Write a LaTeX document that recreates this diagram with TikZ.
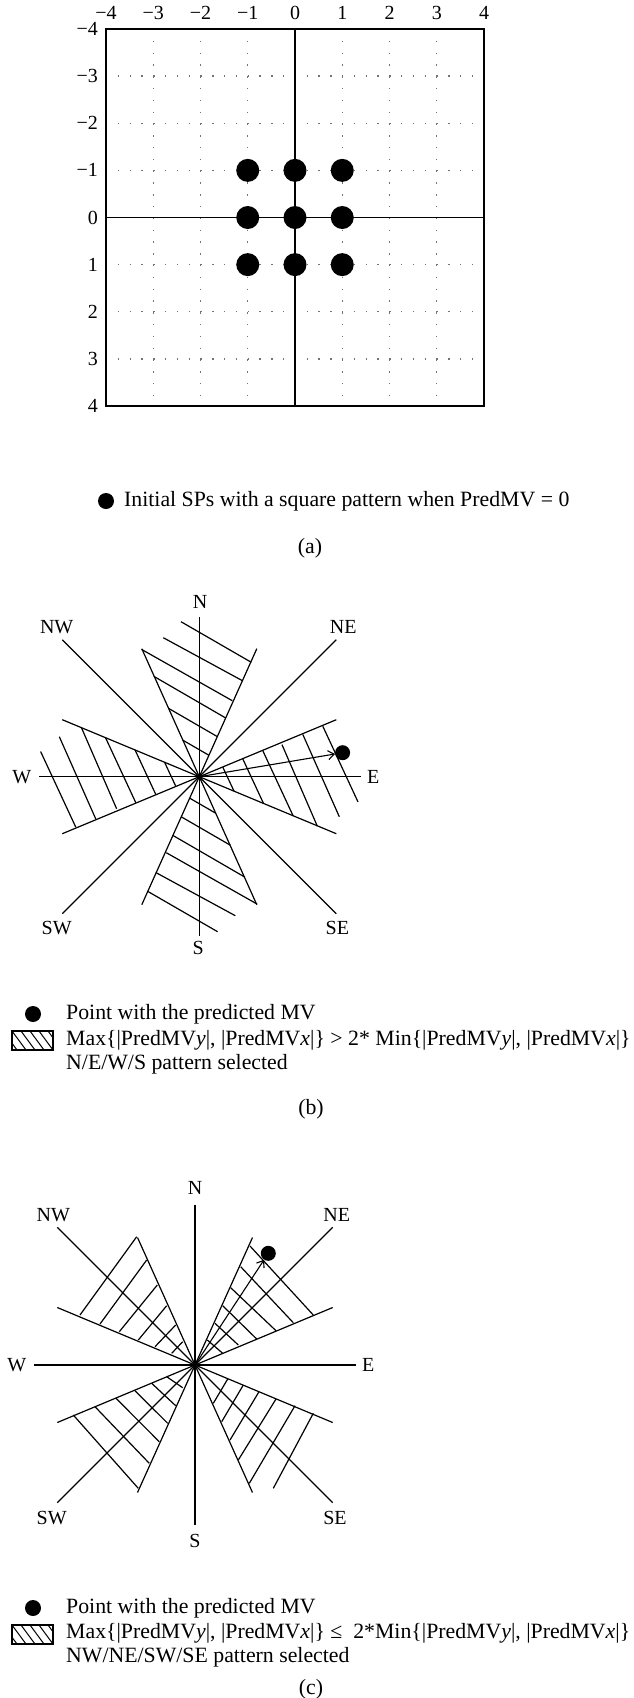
\documentclass[tikz,border=0pt]{standalone}
\usepackage{fontspec}
\setmainfont{Liberation Serif}
\usetikzlibrary{arrows.meta}
\begin{document}
\begin{tikzpicture}[x=1pt,y=-1pt,
  gridbox/.style={line width=1.5pt},
  axisline/.style={line width=1.3pt},
  dotgrid/.style={line width=1.3pt, black!55, dash pattern=on 1.3pt off 10.5pt},
  ray/.style={line width=1.2pt},
  hatchline/.style={line width=1.2pt},
  ticklbl/.style={font=\fontsize{20}{24}\selectfont, inner sep=0pt},
  dirlbl/.style={font=\fontsize{20}{24}\selectfont, inner sep=0pt},
  legtext/.style={font=\fontsize{21.8}{26}\selectfont, inner sep=0pt, anchor=west},
  captext/.style={font=\fontsize{21.8}{26}\selectfont, inner sep=0pt},
  bigdot/.style={circle, fill=black, inner sep=0pt, minimum size=23pt},
  mvdot/.style={circle, fill=black, inner sep=0pt, minimum size=15pt},
  legdot/.style={circle, fill=black, inner sep=0pt, minimum size=16pt},
  mvarrow/.style={line width=1.1pt, -{Straight Barb[length=6pt,width=9pt]}}
]
\useasboundingbox (0,0) rectangle (633,1698);

% ---------------- panel (a) ----------------
\foreach \k in {1,2,3,5,6,7} {
  \draw[dotgrid] ({106+47.25*\k},29) -- ({106+47.25*\k},406);
  \draw[dotgrid] (106,{29+47.125*\k}) -- (484,{29+47.125*\k});
}
\draw[axisline] (295,29) -- (295,406);
\draw[axisline] (106,217.5) -- (484,217.5);
\draw[gridbox] (106,29) rectangle (484,406);
\foreach \k/\t in {0/−4,1/−3,2/−2,3/−1,4/0,5/1,6/2,7/3,8/4} {
  \node[ticklbl] (tx\k) at ({106+47.25*\k},13) {\t};
  \node[ticklbl, anchor=east] (ty\k) at (98,{29+47.125*\k}) {\t};
}
\foreach \i in {-1,0,1} \foreach \j in {-1,0,1}
  \node[bigdot] (sp\i\j) at ({295+47.25*\i},{217.5+47.125*\j}) {};
\node[legdot] (lad) at (106,501) {};
\node[legtext] (la) at (124,501) {Initial SPs with a square pattern when PredMV = 0};
\node[captext] (capa) at (310,548) {(a)};

% ---------------- panel (b) ----------------
\def\hNb{-18.3/-155/52/-114.4, -36/-139/43.5/-95.8, -57.7/-127.3/33/-76, -45.5/-100.4/26.6/-58.6, -31/-68.5/18.2/-40, -16.6/-36.6/9.7/-21.4}
\def\hWb{-158.7/-25.2/-123.5/50.5, -140/-40/-103.5/42.3, -118/-49.4/-82.7/32, -93.9/-39.3/-63.5/26, -64.3/-26.9/-43.5/17.8, -34.8/-14.6/-23.5/9.6}
\begin{scope}[shift={(199.3,776.7)}]
  \coordinate (cb) at (0,0);
  \draw[ray] (0,-159.5) -- (0,159.5);
  \draw[ray] (-160,0) -- (161.5,0);
  \draw[ray] (-137,-137) -- (137,137);
  \draw[ray] (-137,137) -- (137,-137);
  \foreach \r in {0,180} {
    \begin{scope}[rotate=\r]
      \draw[ray] (0,0) -- (-57.5,-128);
      \draw[ray] (0,0) -- (57.5,-128);
      \draw[ray] (0,0) -- (-137,-57);
      \draw[ray] (0,0) -- (-137,57);
      \foreach \a/\b/\c/\d in \hNb { \draw[hatchline] (\a,\b) -- (\c,\d); }
      \foreach \a/\b/\c/\d in \hWb { \draw[hatchline] (\a,\b) -- (\c,\d); }
    \end{scope}
  }
  \node[dirlbl] (bN) at (0.7,-175) {N};
  \node[dirlbl] (bS) at (-1,171.3) {S};
  \node[dirlbl] (bW) at (-177.6,0) {W};
  \node[dirlbl] (bE) at (174,0) {E};
  \node[dirlbl] (bNW) at (-142.6,-150) {NW};
  \node[dirlbl] (bNE) at (144,-150) {NE};
  \node[dirlbl] (bSW) at (-142.6,151.6) {SW};
  \node[dirlbl] (bSE) at (138,151.6) {SE};
  \node[mvdot] (pb) at (143.3,-24) {};
  \draw[mvarrow] (cb) -- (pb);
\end{scope}

\node[legdot] (lbd) at (33,1014) {};
\node[legtext] (lb1) at (66,1014) {Point with the predicted MV};
\begin{scope}
  \clip (12,1031) rectangle (53,1050);
  \foreach \s in {-2,...,4} \draw[line width=1pt] ({12+9*\s},1031) -- ({26+9*\s},1050);
\end{scope}
\draw[line width=1.2pt] (12,1031) rectangle (53,1050);
\node[legtext] (lb2) at (66,1040) {Max\{|PredMV\textit{y}|, |PredMV\textit{x}|\} > 2* Min\{|PredMV\textit{y}|, |PredMV\textit{x}|\}};
\node[legtext] (lb3) at (66,1064) {N/E/W/S pattern selected};
\node[captext] (capb) at (311,1109) {(b)};

% ---------------- panel (c) ----------------
\def\hNEc{55/-119/118.3/-50, 45.7/-98.3/98.3/-42.3, 35.7/-77.3/81/-34.3, 27.7/-59.3/61.7/-26, 20/-41.7/43.3/-20, 12.3/-25/27.7/-11.7}
\def\hNWc{-115/-50/-58.3/-128.3, -95/-41/-48.3/-105, -75.7/-33.3/-37.7/-80, -56.7/-25/-28.3/-59.3, -40/-18.3/-19.3/-40, -23.3/-11.7/-12.3/-23.3}
\def\hSEc{78.3/123.3/118.3/48.3, 54.3/118.3/100/40.7, 43.3/95/81/34, 35/75/64/26.7, 26.7/56.7/48.3/20, 18.3/38.3/32.7/14}
\def\hSWc{-121.7/50/-56.7/123.3, -100/41.7/-45.7/98.3, -79/33.3/-35.7/76.7, -60/25.7/-27.3/58.3, -43.3/18.3/-19.3/40.7, -28.3/11.7/-12.3/22.7}
\begin{scope}[shift={(195,1365)}]
  \coordinate (cc) at (0,0);
  \draw[ray] (0,-160) -- (0,160);
  \draw[ray] (-160.7,0) -- (160.7,0);
  \draw[ray] (-137.7,-137.7) -- (137.7,137.7);
  \draw[ray] (-137.7,137.7) -- (137.7,-137.7);
  \foreach \sx in {1,-1} \foreach \sy in {1,-1} {
    \draw[ray] (0,0) -- ({\sx*137.7},{\sy*57.5});
    \draw[ray] (0,0) -- ({\sx*57.5},{\sy*127.5});
  }
  \foreach \a/\b/\c/\d in \hNEc { \draw[hatchline] (\a,\b) -- (\c,\d); }
  \foreach \a/\b/\c/\d in \hNWc { \draw[hatchline] (\a,\b) -- (\c,\d); }
  \foreach \a/\b/\c/\d in \hSEc { \draw[hatchline] (\a,\b) -- (\c,\d); }
  \foreach \a/\b/\c/\d in \hSWc { \draw[hatchline] (\a,\b) -- (\c,\d); }
  \node[dirlbl] (cN) at (0,-176.7) {N};
  \node[dirlbl] (cS) at (0,176) {S};
  \node[dirlbl] (cW) at (-178.3,0) {W};
  \node[dirlbl] (cE) at (173.3,0) {E};
  \node[dirlbl] (cNW) at (-141.7,-150) {NW};
  \node[dirlbl] (cNE) at (141.7,-150) {NE};
  \node[dirlbl] (cSW) at (-143.3,153.3) {SW};
  \node[dirlbl] (cSE) at (140,153.3) {SE};
  \node[mvdot] (pc) at (73.3,-111.7) {};
  \draw[mvarrow] (cc) -- (pc);
\end{scope}

\node[legdot] (lcd) at (33,1608) {};
\node[legtext] (lc1) at (66,1608) {Point with the predicted MV};
\begin{scope}
  \clip (12,1625) rectangle (53,1644);
  \foreach \s in {-2,...,4} \draw[line width=1pt] ({12+9*\s},1625) -- ({26+9*\s},1644);
\end{scope}
\draw[line width=1.2pt] (12,1625) rectangle (53,1644);
\node[legtext] (lc2) at (66,1633) {Max\{|PredMV\textit{y}|, |PredMV\textit{x}|\} ≤ \ 2*Min\{|PredMV\textit{y}|, |PredMV\textit{x}|\}};
\node[legtext] (lc3) at (66,1657) {NW/NE/SW/SE pattern selected};
\node[captext] (capc) at (311,1689) {(c)};
\end{tikzpicture}
\end{document}
